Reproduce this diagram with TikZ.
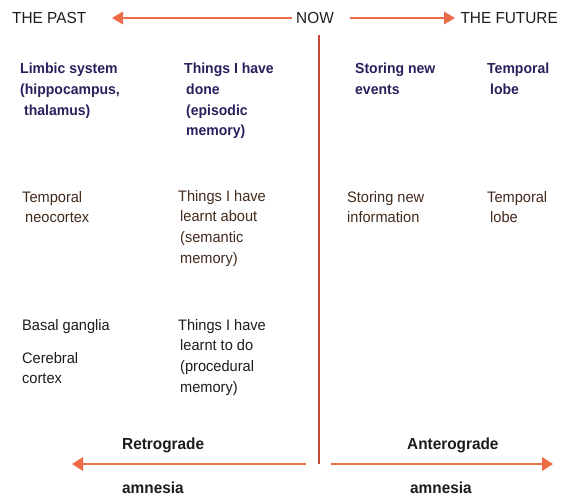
\documentclass[tikz,border=0pt]{standalone}
\usepackage{fontspec}
\setmainfont{Liberation Sans}[FakeStretch=0.96]
\usepackage{tikz}
\definecolor{arrowred}{RGB}{236,108,72}
\definecolor{linered}{RGB}{196,72,52}
\definecolor{rowblue}{RGB}{40,32,92}
\definecolor{rowbrown}{RGB}{66,42,28}
\definecolor{rowblack}{RGB}{30,28,26}
\tikzset{
  memtext/.style={anchor=north west, align=left, text=rowblack, font=\fontsize{15.2}{20.7}\selectfont},
  memhead/.style={memtext, text=rowblue, font=\fontsize{14.6}{20.7}\selectfont\bfseries},
  amntext/.style={anchor=west, text=rowblack, font=\fontsize{16}{18}\selectfont\bfseries},
  timetext/.style={anchor=center, text=rowblack, font=\fontsize{16}{18}\selectfont}
}
\begin{document}
\begin{tikzpicture}[x=1pt,y=-1pt]
\tikzstyle{every node}+=[inner sep=0pt]
\useasboundingbox (0,0) rectangle (563,496);
\node [timetext, anchor=west] (past) at (12,18) {THE PAST};
\node [timetext] (now) at (315,18) {NOW};
\node [timetext, anchor=east] (future) at (558,18) {THE FUTURE};
\coordinate (pasttip) at (112,18);
\coordinate (futuretip) at (455,18);
\draw [arrowred, line width=1.6] ([xshift=-4]now.west) -- ([xshift=6]pasttip);
\fill [arrowred] (pasttip) -- ++(11,-6.5) -- ++(0,13) -- cycle;
\draw [arrowred, line width=1.6] ([xshift=16]now.east) -- ([xshift=-6]futuretip);
\fill [arrowred] (futuretip) -- ++(-11,-6.5) -- ++(0,13) -- cycle;
\coordinate (nowtop) at (319,35);
\coordinate (nowbot) at (319,464);
\draw [linered, line width=1.4] (nowtop) -- (nowbot);
\node [memhead] (limbic) at (20,63) {Limbic system\\(hippocampus,\\\hspace*{4pt}thalamus)};
\node [memhead] (episodic) at (184,63) {Things I have\\\hspace*{2pt}done\\\hspace*{2pt}(episodic\\\hspace*{2pt}memory)};
\node [memhead] (events) at (355,63) {Storing new\\events};
\node [memhead] (lobea) at (487,63) {Temporal\\\hspace*{3pt}lobe};
\node [memtext, text=rowbrown] (neocortex) at (22,191) {Temporal\\\hspace*{3pt}neocortex};
\node [memtext, text=rowbrown] (semantic) at (178,190) {Things I have\\\hspace*{2pt}learnt about\\\hspace*{2pt}(semantic\\\hspace*{2pt}memory)};
\node [memtext, text=rowbrown] (information) at (347,191) {Storing new\\information};
\node [memtext, text=rowbrown] (lobeb) at (487,191) {Temporal\\\hspace*{3pt}lobe};
\node [memtext] (basal) at (22,319) {Basal ganglia};
\node [memtext] (cerebral) at (22,352) {Cerebral\\cortex};
\node [memtext] (procedural) at (178,319) {Things I have\\\hspace*{2pt}learnt to do\\\hspace*{2pt}(procedural\\\hspace*{2pt}memory)};
\node [amntext] (retro) at (122,445) {Retrograde};
\node [amntext] (retroam) at (122,488) {amnesia};
\node [amntext] (antero) at (407,445) {Anterograde};
\node [amntext] (anteroam) at (410,488) {amnesia};
\coordinate (retrotail) at (306,464);
\coordinate (retrotip) at (72,464);
\coordinate (anterotail) at (331,464);
\coordinate (anterotip) at (553,464);
\draw [arrowred, line width=1.8] (retrotail) -- ([xshift=6]retrotip);
\fill [arrowred] (retrotip) -- ++(11,-7) -- ++(0,14) -- cycle;
\draw [arrowred, line width=1.8] (anterotail) -- ([xshift=-6]anterotip);
\fill [arrowred] (anterotip) -- ++(-11,-7) -- ++(0,14) -- cycle;
\end{tikzpicture}
\end{document}
